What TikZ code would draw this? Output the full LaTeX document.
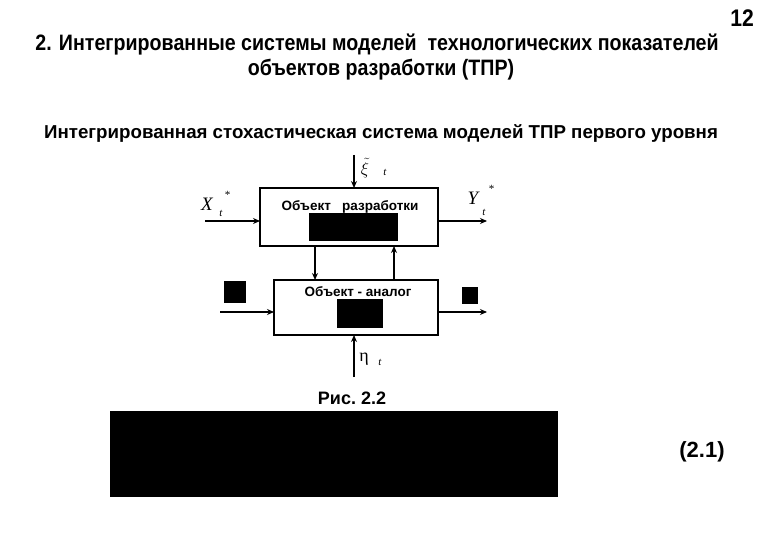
\documentclass[tikz,border=0pt]{standalone}
\usepackage{fontspec}
\setmainfont{Liberation Sans}
\newfontfamily\narrowfont[FakeStretch=0.88]{Liberation Sans}
\newfontfamily\mathserif{Liberation Serif}
\usetikzlibrary{arrows.meta}
\begin{document}
\begin{tikzpicture}[x=1pt,y=-1pt,
  every node/.style={inner sep=0pt,outer sep=0pt},
  sysbox/.style={draw,line width=1.2pt},
  blackbox/.style={fill=black,draw=none},
  flow/.style={line width=1.2pt,-{Stealth[length=7pt,width=6pt]}},
  headline/.style={font=\narrowfont\bfseries\fontsize{22.3}{24}\selectfont},
  boxtext/.style={font=\bfseries\fontsize{13.5}{15}\selectfont},
  varlabel/.style={font=\mathserif\itshape\fontsize{19}{21}\selectfont},
  sublabel/.style={font=\mathserif\itshape\fontsize{11}{12}\selectfont}]
\useasboundingbox[fill=white] (0,0) rectangle (766,540);
% headings
\node[font=\narrowfont\bfseries\fontsize{24}{26}\selectfont] (pg) at (742,18) {12};
\node[headline] (t1) at (377,45) {2. Интегрированные системы моделей\ \ технологических показателей};
\node[headline] (t2) at (381,70) {объектов разработки (ТПР)};
\node[font=\bfseries\fontsize{18.7}{21}\selectfont] (sub) at (381,133) {Интегрированная стохастическая система моделей ТПР первого уровня};
% boxes
\draw[sysbox] (260,188) rectangle (438,246);
\coordinate (b1n) at (354,188);
\coordinate (b1w) at (260,221);
\coordinate (b1e) at (438,221);
\coordinate (b1sa) at (315,246);
\coordinate (b1sb) at (394,246);
\node[boxtext] (tx1) at (350,207) {Объект\ \ \ разработки};
\fill[blackbox] (309,213) rectangle (398,241);
\draw[sysbox] (274,280) rectangle (438,335);
\coordinate (b2na) at (315,280);
\coordinate (b2nb) at (394,280);
\coordinate (b2w) at (274,312);
\coordinate (b2e) at (438,312);
\coordinate (b2s) at (354,335);
\node[boxtext] (tx2) at (358,292) {Объект - аналог};
\fill[blackbox] (337,299) rectangle (383,328);
\fill[blackbox] (224,281) rectangle (246,303);
\fill[blackbox] (462,287) rectangle (478,304);
\fill[blackbox] (110,411) rectangle (558,497);
% free ends
\coordinate (xiS) at (354,155);
\coordinate (xS) at (205,221);
\coordinate (yE) at (487,221);
\coordinate (uS) at (220,312);
\coordinate (vE) at (487,312);
\coordinate (etaS) at (354,377);
% connectors
\draw[flow] (xiS) -- (b1n);
\draw[flow] (xS) -- (b1w);
\draw[flow] (b1e) -- (yE);
\draw[flow] (b1sa) -- (b2na);
\draw[flow] (b2nb) -- (b1sb);
\draw[flow] (uS) -- (b2w);
\draw[flow] (b2e) -- (vE);
\draw[flow] (etaS) -- (b2s);
% labels
\node[varlabel] (lx) at (207,204) {X};
\node[sublabel] (lxt) at (221,213) {t};
\node[sublabel] (lxs) at (227,195) {*};
\node[varlabel] (ly) at (473,198) {Y};
\node[sublabel] (lyt) at (484,212) {t};
\node[sublabel] (lys) at (491,189) {*};
\node[font=\fontsize{18}{20}\selectfont] (lxi) at (365,168) {$\tilde{\xi}$};
\node[sublabel] (lxit) at (385,172) {t};
\node[font=\mathserif\fontsize{18}{20}\selectfont] (leta) at (364,359) {η};
\node[sublabel] (letat) at (380,362) {t};
% captions
\node[font=\bfseries\fontsize{18}{20}\selectfont] (fig) at (352,398) {Рис.\ 2.2};
\node[font=\bfseries\fontsize{22}{24}\selectfont] (eq) at (702,452) {(2.1)};
\end{tikzpicture}
\end{document}
